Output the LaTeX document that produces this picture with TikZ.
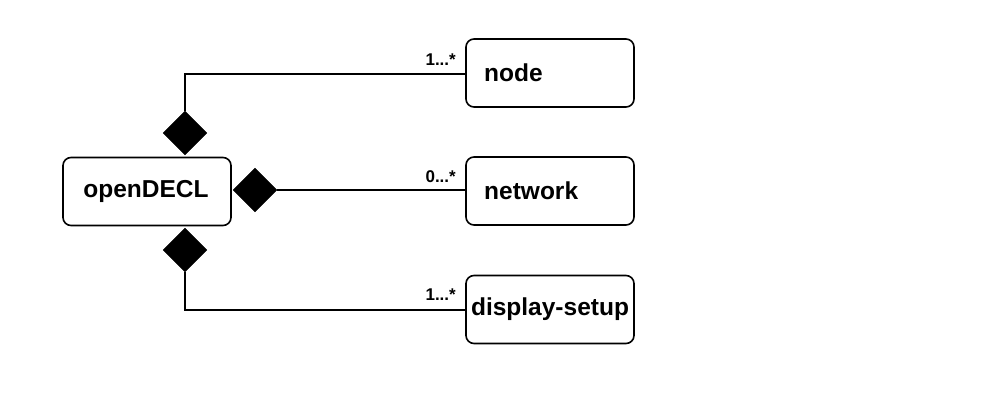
\documentclass[tikz,border=0pt]{standalone}
\usepackage{fontspec}
\setmainfont{Liberation Sans}
\usetikzlibrary{shapes.geometric}
\begin{document}
\begin{tikzpicture}[x=1pt,y=-1pt,
  cls/.style={draw,line width=1.6pt,rounded corners=8pt,minimum width=168pt,minimum height=68pt,inner sep=0pt},
  lbl/.style={font=\bfseries\fontsize{24.5}{26}\selectfont,inner sep=0pt},
  mult/.style={font=\bfseries\fontsize{17}{19}\selectfont,anchor=south east,inner sep=0pt},
  dia/.style={diamond,fill=black,draw=black,minimum width=44pt,minimum height=44pt,inner sep=0pt},
  conn/.style={line width=1.6pt}]
\useasboundingbox (0,0) rectangle (1000,400);
\node[cls] (open) at (147,191.5) {};
\node[lbl] (openT) at (146,191.5) {openDECL};
\node[cls] (node) at (550,73) {};
\node[lbl,anchor=west] (nodeT) at (484,73) {node};
\node[cls] (net) at (550,191) {};
\node[lbl,anchor=west] (netT) at (484,191) {network};
\node[cls] (disp) at (550,309.5) {};
\node[lbl] (dispT) at (550,309.5) {display-setup};
\node[dia] (d1) at (185,133) {};
\node[dia] (d2) at (255,190) {};
\node[dia] (d3) at (185,250) {};
\coordinate (c1) at (185,74);
\coordinate (c3) at (185,310);
\draw[conn] (d1.north) -- (c1) -- (node.west |- c1);
\draw[conn] (d2.east) -- (net.west |- d2);
\draw[conn] (d3.south) -- (c3) -- (disp.west |- c3);
\node[mult] (m1) at (456,66) {1...*};
\node[mult] (m2) at (456,183) {0...*};
\node[mult] (m3) at (456,301) {1...*};
\end{tikzpicture}
\end{document}
